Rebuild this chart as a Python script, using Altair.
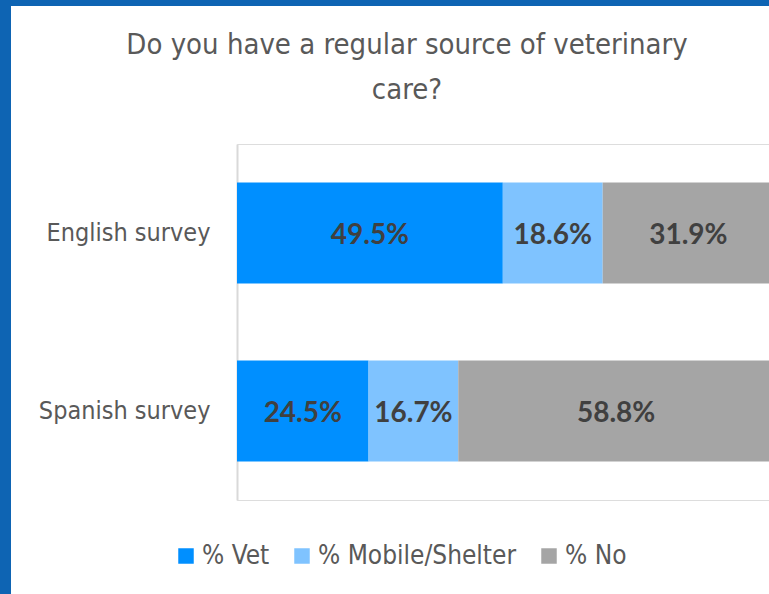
import altair as alt
import pandas as pd

surveys = ["English survey", "Spanish survey"]
categories = ["% Vet", "% Mobile/Shelter", "% No"]
vet = [49.5, 24.5]
mobile = [18.6, 16.7]
no = [31.9, 58.8]
colors = ["#008fff", "#7fc3ff", "#a5a5a5"]

rows = []
for i, s in enumerate(surveys):
    for j, (c, v) in enumerate(zip(categories, [vet[i], mobile[i], no[i]])):
        rows.append({"survey": s, "category": c, "value": v, "order": j})
df = pd.DataFrame(rows)

W, H = 532, 356
PAD_L, PAD_T, PAD_B = 237, 144, 94
FONT = "DejaVu Sans Condensed, Roboto Condensed, Liberation Sans Narrow, Roboto"

base = alt.Chart(df).transform_stack(
    stack="value", groupby=["survey"], as_=["start", "end"],
    sort=[alt.SortField("order", order="ascending")]
).transform_calculate(mid="(datum.start + datum.end) / 2",
                      lbl="format(datum.value, '.1f') + '%'")

xscale = alt.Scale(domain=[0, 100], range=[0, 537], nice=False)
yscale = alt.Scale(domain=surveys, paddingInner=0.433, paddingOuter=0.2165)

bars = base.mark_bar().encode(
    x=alt.X("start:Q", scale=xscale, axis=None),
    x2="end:Q",
    y=alt.Y("survey:N", scale=yscale, title=None,
            axis=alt.Axis(labelFont=FONT, labelFontSize=25, labelColor="#595959",
                          labelPadding=27, ticks=False, domainColor="#d9d9d9",
                          domainWidth=2, grid=False, labelLimit=300, labelBaseline="middle")),
    color=alt.Color("category:N", scale=alt.Scale(domain=categories, range=colors),
                    legend=alt.Legend(orient="none", direction="horizontal", title=None,
                                      legendX=-64, legendY=399,
                                      symbolType="square", symbolSize=240,
                                      symbolStrokeWidth=0, labelFont=FONT,
                                      labelFontSize=26, labelColor="#595959",
                                      labelOffset=3, columnPadding=19,
                                      labelLimit=400)),
    order=alt.Order("order:Q"),
)

labels = base.mark_text(font="Lato", fontWeight="bold", fontSize=28,
                        color="#404040", baseline="middle", dy=3).encode(
    x=alt.X("mid:Q", scale=xscale),
    y=alt.Y("survey:N", scale=yscale),
    text="lbl:N",
)

border_left = alt.Chart(pd.DataFrame({"a": [0]})).mark_rule(
    color="#0e64b3", strokeWidth=11).encode(
    x=alt.value(-PAD_L + 5.5), y=alt.value(-PAD_T), y2=alt.value(H + PAD_B))
border_top = alt.Chart(pd.DataFrame({"a": [0]})).mark_rule(
    color="#0e64b3", strokeWidth=6).encode(
    y=alt.value(-PAD_T + 3), x=alt.value(-PAD_L), x2=alt.value(W))

chart = alt.layer(bars, labels, border_left, border_top).properties(
    width=W, height=H,
    title=alt.TitleParams(["Do you have a regular source of veterinary", "care?"],
                          font=FONT, fontSize=29, fontWeight="normal", color="#595959",
                          anchor="middle", dx=-96, lineHeight=45, offset=-110),
    autosize=alt.AutoSizeParams(type="none"),
    padding={"left": PAD_L, "top": PAD_T, "right": 0, "bottom": PAD_B},
).configure_view(stroke=None).configure(background="white")

chart.save("out.html", embed_options={"renderer": "svg", "actions": False})
